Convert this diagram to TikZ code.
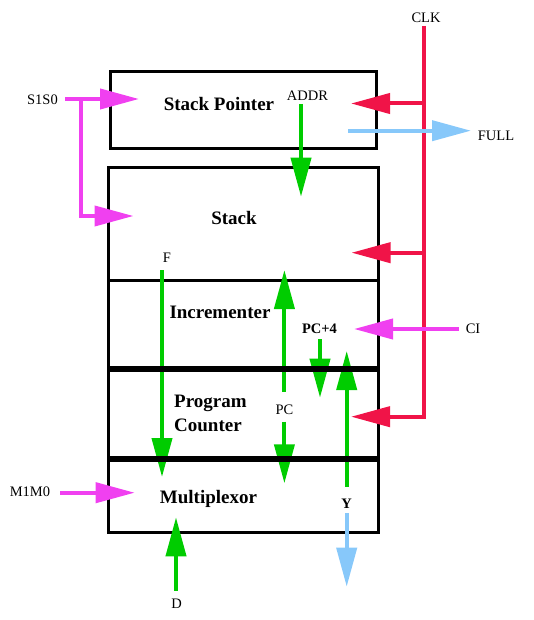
\documentclass[tikz,border=0pt]{standalone}
\usepackage{fontspec}
\setmainfont{Liberation Serif}
\usetikzlibrary{arrows.meta}
\definecolor{clkred}{RGB}{240,20,72}
\definecolor{ctlpink}{RGB}{240,64,240}
\definecolor{datgreen}{RGB}{0,204,0}
\definecolor{outblue}{RGB}{135,200,250}
\tikzset{
  sig/.style={line width=4pt,-{Triangle[length=39pt,width=20pt]}},
  lbl/.style={inner sep=0pt,text height=0.66em,text depth=0pt,yshift=-2.5pt,font=\fontsize{14.5}{17}\selectfont},
  unit/.style={inner sep=0pt,text height=0.66em,text depth=0pt,yshift=-3pt,font=\bfseries\fontsize{19}{22}\selectfont},
  block/.style={draw,line width=3pt},
}
\begin{document}
\begin{tikzpicture}[x=1pt,y=-1pt]
\useasboundingbox (0,0) rectangle (534,620);
% blocks
\draw[block] (110.5,71.5) rectangle (376.5,149);
\draw[block] (108.5,168) rectangle (378.5,532);
\draw[line width=3pt] (108.5,280.5) -- (378.5,280.5);
% unit names
\node[unit] (sp) at (219,104) {Stack Pointer};
\node[unit] (stk) at (234,218) {Stack};
\node[unit] (inc) at (220,312.5) {Incrementer};
\node[unit,anchor=west] (prog) at (174,401) {Program};
\node[unit,anchor=west] (cnt) at (174,425) {Counter};
\node[unit] (mux) at (208.5,497) {Multiplexor};
% signal labels
\node[lbl] (clk) at (426,17) {CLK};
\node[lbl] (s1s0) at (42.5,99) {S1S0};
\node[lbl] (addr) at (307.5,95) {ADDR};
\node[lbl] (full) at (496,134.5) {FULL};
\node[lbl] (f) at (167,256.5) {F};
\node[lbl,font=\bfseries\fontsize{14.5}{17}\selectfont] (pc4) at (319.5,328) {PC+4};
\node[lbl] (ci) at (473,328) {CI};
\node[lbl] (pc) at (284.5,409) {PC};
\node[lbl] (m1m0) at (30,490.5) {M1M0};
\node[lbl,font=\bfseries\fontsize{14.5}{17}\selectfont] (y) at (346.7,503) {Y};
\node[lbl] (d) at (176.5,602.5) {D};
% clock
\coordinate (clktop) at (424,26);
\coordinate (clkpc) at (351,416.7);
\draw[sig,clkred] (clktop) |- (clkpc);
\draw[sig,clkred] (424,103.5) -- (351,103.5);
\draw[sig,clkred] (424,252.7) -- (351.5,252.7);
% control inputs
\coordinate (s1s0end) at (65,99);
\coordinate (s1s0tap) at (81,99);
\draw[sig,ctlpink] (s1s0end) -- (139,99);
\draw[sig,ctlpink] (s1s0tap) |- (133.5,216);
\draw[sig,ctlpink] (459,329) -- (354,329);
\draw[sig,ctlpink] (60,492.7) -- (134.7,492.7);
% outputs
\draw[sig,outblue] (348,130.7) -- (471,130.7);
\draw[sig,outblue] (346.7,513) -- (346.7,586.7);
% data paths
\draw[sig,datgreen] (301,104) -- (301,196.7);
\draw[sig,datgreen] (162,270) -- (162,477);
\draw[sig,datgreen] (284.4,391.7) -- (284.4,270);
\draw[sig,datgreen] (284.4,421.7) -- (284.4,483.3);
\draw[sig,datgreen] (320,339) -- (320,397.7);
\draw[sig,datgreen] (346.7,486.7) -- (346.7,351);
\draw[sig,datgreen] (176,590.7) -- (176,517.3);
% thick dividers
\draw[line width=6pt] (108.5,368.5) -- (378.5,368.5);
\draw[line width=6pt] (108.5,459) -- (378.5,459);
\end{tikzpicture}
\end{document}
